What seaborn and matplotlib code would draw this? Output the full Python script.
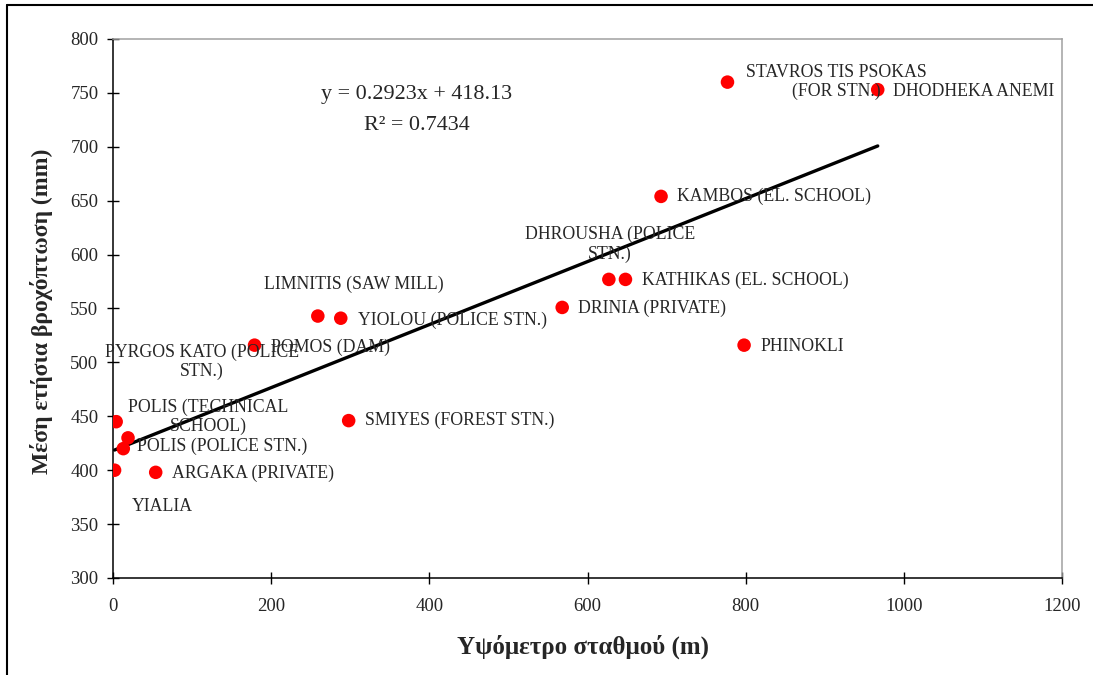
import matplotlib
matplotlib.use("Agg")
import matplotlib.pyplot as plt
from matplotlib.lines import Line2D
import seaborn as sns
import pandas as pd
import numpy as np

# ---- data ----
stations = [
    "STAVROS TIS PSOKAS\n(FOR STN.)",
    "DHODHEKA ANEMI",
    "KAMBOS (EL. SCHOOL)",
    "DHROUSHA (POLICE\nSTN.)",
    "KATHIKAS (EL. SCHOOL)",
    "DRINIA (PRIVATE)",
    "PHINOKLI",
    "LIMNITIS (SAW MILL)",
    "YIOLOU (POLICE STN.)",
    "POMOS (DAM)",
    "PYRGOS KATO (POLICE\nSTN.)",
    "SMIYES (FOREST STN.)",
    "POLIS (TECHNICAL\nSCHOOL)",
    "POLIS (POLICE STN.)",
    "ARGAKA (PRIVATE)",
    "YIALIA",
]
elevation = [777, 967, 693, 627, 648, 568, 798, 259, 288, 179, 4, 298, 19, 13, 54, 2]
rainfall = [760, 753, 654, 577, 577, 551, 516, 543, 541, 516, 445, 446, 430, 420, 398, 400]

slope = 0.2923
intercept = 418.13
r2 = 0.7434

x_ticks = [0, 200, 400, 600, 800, 1000, 1200]
y_ticks = [300, 350, 400, 450, 500, 550, 600, 650, 700, 750, 800]

x_label = "Υψόμετρο σταθμού (m)"
y_label = "Μέση ετήσια βροχόπτωση (mm)"

# label placement (offset in pixels from point, horizontal alignment)
label_offsets = [
    (109, 0, "center"), (15, -2, "left"), (16, 0, "left"), (1, 35, "center"),
    (17, -1, "left"), (16, -1, "left"), (16, -1, "left"), (36, 32, "center"),
    (17, -2, "left"), (16, -2, "left"), (86, 60, "center"), (16, 0, "left"),
    (80, 21, "center"), (14, 2, "left"), (16, -1, "left"), (17, -36, "left"),
]

# ---- style ----
sns.set_style("white")
plt.rcParams["font.family"] = ["Liberation Serif", "DejaVu Serif"]

W, H = 1093, 675
fig = plt.figure(figsize=(W / 100, H / 100), dpi=100)
ax = fig.add_axes([113 / W, 1 - 578 / H, (1062 - 113) / W, (578 - 39) / H])

df = pd.DataFrame({"elev": elevation, "rain": rainfall, "name": stations})

sns.scatterplot(data=df, x="elev", y="rain", ax=ax, s=95, color="#ff0000",
                edgecolor="none", linewidth=0, zorder=3)

xs = np.array([min(elevation), max(elevation)])
trend = pd.DataFrame({"x": xs, "y": slope * xs + intercept})
sns.lineplot(data=trend, x="x", y="y", ax=ax, color="black", linewidth=2.4, zorder=2)

for (name, xv, yv), (dx, dy, ha) in zip(zip(stations, elevation, rainfall), label_offsets):
    ax.annotate(name, (xv, yv), xytext=(dx, dy), textcoords="offset pixels",
                ha=ha, va="center", fontsize=12.8, multialignment="center",
                linespacing=1.15, zorder=4)

ax.text(0.320, 0.897, f"y = {slope}x + {intercept}", transform=ax.transAxes,
        ha="center", va="center", fontsize=15.9)
ax.text(0.320, 0.840, f"R² = {r2}", transform=ax.transAxes,
        ha="center", va="center", fontsize=15.9)

ax.set_xlim(0, 1200)
ax.set_ylim(300, 800)
ax.set_xticks(x_ticks)
ax.set_yticks(y_ticks)
ax.tick_params(axis="both", direction="inout", length=9, width=1, color="black",
               labelsize=13.5, left=True, bottom=True)
ax.tick_params(axis="x", pad=10)
ax.tick_params(axis="y", pad=6)

for side in ["left", "bottom"]:
    ax.spines[side].set_color("black")
    ax.spines[side].set_linewidth(1.1)
for side in ["top", "right"]:
    ax.spines[side].set_color("#a0a0a0")
    ax.spines[side].set_linewidth(1.1)

ax.set_xlabel(x_label, fontsize=18, fontweight="bold", va="center")
ax.set_ylabel(y_label, fontsize=17, fontweight="bold", va="center")
ax.xaxis.set_label_coords((583 - 113) / 949, (578 - 647) / 539)
ax.yaxis.set_label_coords((42 - 113) / 949, (578 - 311) / 539)

# outer chart frame (cropped)
fig.add_artist(Line2D([7 / W, 7 / W], [0, 1 - 5 / H], color="black", linewidth=1.5))
fig.add_artist(Line2D([7 / W, 1], [1 - 5 / H, 1 - 5 / H], color="black", linewidth=1.5))

fig.savefig("out.png", dpi=100, facecolor="white")
